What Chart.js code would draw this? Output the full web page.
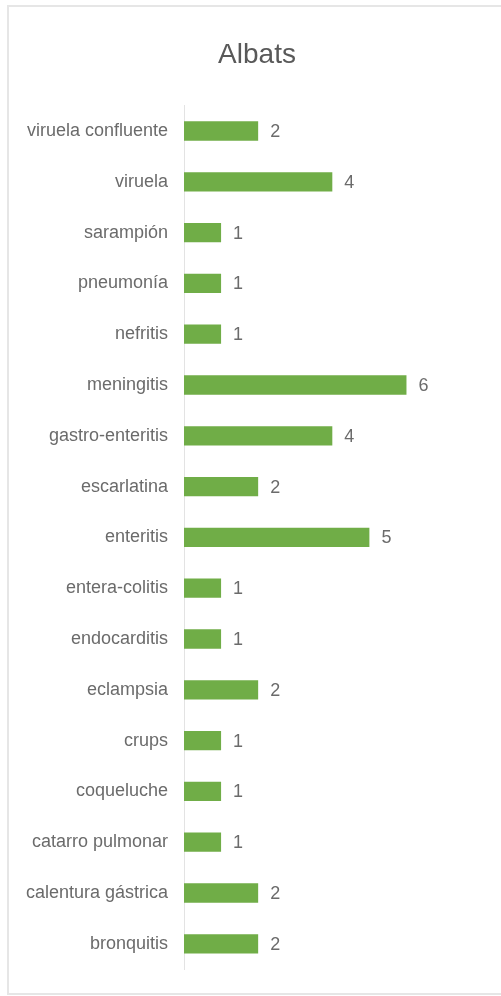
<!DOCTYPE html>
<html>
<head>
<meta charset="utf-8">
<script src="https://cdn.jsdelivr.net/npm/chart.js@4.4.0/dist/chart.umd.min.js"></script>
<style>
  html, body { margin: 0; padding: 0; background: #fff; overflow: hidden; }
  #frame {
    position: absolute; left: 7px; top: 5px;
    width: 600px; height: 986px;
    border: 2px solid #e6e6e6;
  }
  /* 图表本身比窗口宽一点，标题居中在整个图表上 */
  #wrap { position: absolute; left: 0; top: 0; width: 514px; height: 996px; }
</style>
</head>
<body>
<div id="frame"></div>
<div id="wrap"><canvas id="chart"></canvas></div>
<script>
// 数据
const categories = [
    'viruela confluente', 'viruela', 'sarampión', 'pneumonía', 'nefritis',
    'meningitis', 'gastro-enteritis', 'escarlatina', 'enteritis', 'entera-colitis',
    'endocarditis', 'eclampsia', 'crups', 'coqueluche', 'catarro pulmonar',
    'calentura gástrica', 'bronquitis'
];
const counts = [2, 4, 1, 1, 1, 6, 4, 2, 5, 1, 1, 2, 1, 1, 1, 2, 2];
const chartTitle = 'Albats';

const labelFont = { family: "'Liberation Sans', Arial, sans-serif", size: 18 };
const textColor = '#6b6b6b';

// 柱状图末端的数值标签
const valueLabels = {
    id: 'valueLabels',
    afterDatasetsDraw(chart) {
        const ctx = chart.ctx;
        const meta = chart.getDatasetMeta(0);
        ctx.save();
        ctx.font = `${labelFont.size}px ${labelFont.family}`;
        ctx.fillStyle = textColor;
        ctx.textAlign = 'left';
        ctx.textBaseline = 'middle';
        meta.data.forEach((bar, i) => {
            ctx.fillText(String(counts[i]), bar.x + 12, bar.y + 1);
        });
        ctx.restore();
    }
};

new Chart(document.getElementById('chart'), {
    type: 'bar',
    data: {
        labels: categories,
        datasets: [{
            data: counts,
            backgroundColor: '#70ad47',
            borderWidth: 0,
            barPercentage: 0.38,
            categoryPercentage: 1
        }]
    },
    options: {
        indexAxis: 'y',
        responsive: true,
        maintainAspectRatio: false,
        animation: false,
        layout: { padding: { top: 21, right: 0, bottom: 26, left: 0 } },
        plugins: {
            legend: { display: false },
            tooltip: { enabled: false },
            title: {
                display: true,
                text: chartTitle,
                color: '#595959',
                font: { family: "'Liberation Sans', Arial, sans-serif", size: 28, weight: 'normal' },
                padding: { top: 17, bottom: 34 }
            }
        },
        scales: {
            x: {
                display: false,
                min: 0,
                max: 8.9
            },
            y: {
                afterFit(scale) { scale.width = 184; },
                grid: { display: false, drawTicks: false },
                border: { display: true, color: '#e3e3e3', width: 1 },
                ticks: {
                    color: textColor,
                    font: labelFont,
                    padding: 16
                }
            }
        }
    },
    plugins: [valueLabels]
});
</script>
</body>
</html>
